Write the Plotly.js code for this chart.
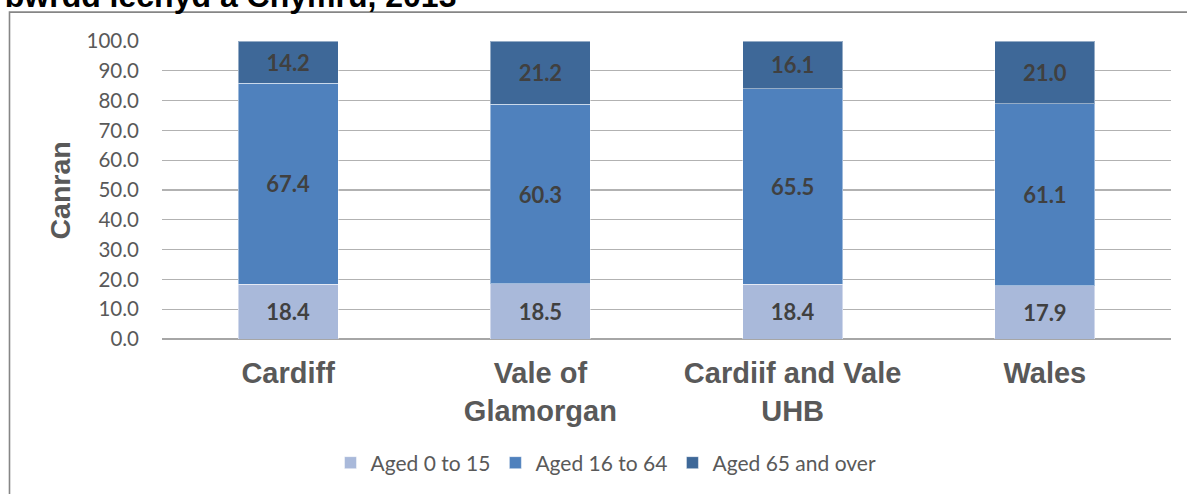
<!DOCTYPE html>
<html>
<head>
<meta charset="utf-8">
<script src="https://cdn.plot.ly/plotly-3.0.1.min.js"></script>
<style>html,body{margin:0;padding:0;background:#fff;}#chart{width:1187px;height:494px;}</style>
</head>
<body>
<div id="chart"></div>
<script>
const categories = ["Cardiff", "Vale of<br>Glamorgan", "Cardiif and Vale<br>UHB", "Wales"];
const seriesNames = ["Aged 0 to 15", "Aged 16 to 64", "Aged 65 and over"];
const aged0to15 = [18.4, 18.5, 18.4, 17.9];
const aged16to64 = [67.4, 60.3, 65.5, 61.1];
const aged65plus = [14.2, 21.2, 16.1, 21.0];
const yTicks = [0, 10, 20, 30, 40, 50, 60, 70, 80, 90, 100];
const titleText = "bwrdd iechyd a Chymru, 2013";
const yTitle = "Canran";

const colors = ["#a9b9da", "#4f81bd", "#3e6898"];
const seriesValues = [aged0to15, aged16to64, aged65plus];

const traces = seriesValues.map((vals, i) => ({
  type: "bar",
  name: seriesNames[i],
  x: categories,
  y: vals,
  text: vals.map(v => v.toFixed(1)),
  textposition: "inside",
  insidetextanchor: "middle",
  constraintext: "none",
  textangle: 0,
  textfont: {family: "Lato, 'Liberation Sans', sans-serif", size: 22, color: "#404040", weight: "bold"},
  marker: {color: colors[i], line: {color: "rgba(255,255,255,0.45)", width: 1}},
  hoverinfo: "none"
}));

const L = 162, R = 16, T = 41, B = 154;
const W = 1187 - L - R, H = 494 - T - B;
const px = x => (x - L) / W;
const py = y => (494 - B - y) / H;

const layout = {
  width: 1187, height: 494,
  margin: {l: L, r: R, t: T, b: B, pad: 0},
  paper_bgcolor: "#ffffff",
  plot_bgcolor: "#ffffff",
  barmode: "stack",
  bargap: 0.604,
  showlegend: true,
  font: {family: "Lato, 'Liberation Sans', sans-serif", color: "#595959"},
  title: {
    text: titleText,
    x: 0.004, xanchor: "left", xref: "container",
    y: 1 - 6.5 / 494, yanchor: "bottom", yref: "container",
    font: {family: "'Liberation Sans', Arial, sans-serif", size: 32, color: "#000000", weight: "bold"}
  },
  xaxis: {
    type: "category",
    showgrid: false,
    showline: false,
    ticks: "",
    ticklabelstandoff: 14,
    tickfont: {family: "'Liberation Sans', Arial, sans-serif", size: 29, color: "#595959", weight: "bold"},
    fixedrange: true
  },
  yaxis: {
    range: [0, 100],
    tickvals: yTicks,
    ticktext: yTicks.map(v => v.toFixed(1)),
    showgrid: true,
    gridcolor: "#b2b2b2",
    gridwidth: 1.3,
    zeroline: true,
    zerolinecolor: "#a6a6a6",
    zerolinewidth: 1.6,
    showline: false,
    ticks: "",
    ticklabelstandoff: 22,
    tickfont: {family: "Lato, 'Liberation Sans', sans-serif", size: 20.5, color: "#595959"},
    fixedrange: true
  },
  legend: {
    orientation: "h",
    x: px(606), xanchor: "center",
    y: py(463), yanchor: "middle",
    font: {family: "Lato, 'Liberation Sans', sans-serif", size: 21, color: "#595959"},
    traceorder: "normal",
    itemwidth: 30
  },
  annotations: [{
    text: yTitle,
    xref: "paper", yref: "paper",
    x: px(60), y: py(191),
    xanchor: "center", yanchor: "middle",
    textangle: -90,
    showarrow: false,
    font: {family: "'Liberation Sans', Arial, sans-serif", size: 28.5, color: "#595959", weight: "bold"}
  }],
  shapes: [{
    type: "path",
    xref: "paper", yref: "paper",
    path: `M ${px(9.5)} ${py(520)} L ${px(9.5)} ${py(12)} L ${px(1200)} ${py(12)}`,
    line: {color: "#868686", width: 1.6},
    layer: "above"
  }]
};

Plotly.newPlot("chart", traces, layout, {staticPlot: true, displayModeBar: false});
</script>
</body>
</html>
